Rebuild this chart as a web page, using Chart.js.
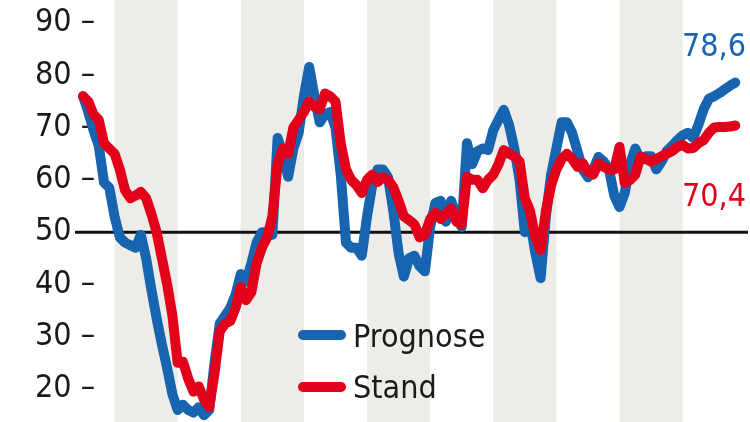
<!DOCTYPE html>
<html><head><meta charset="utf-8">
<script src="https://cdn.jsdelivr.net/npm/chart.js@4/dist/chart.umd.min.js"></script>
<style>html,body{margin:0;padding:0;background:#fff;overflow:hidden}</style>
</head><body>
<canvas id="c" width="750" height="422"></canvas>
<script>
// ---- data ----
const startYear = 2007, startMonth = 7;   // first monthly observation
const prognose = [
  76,73,69.5,66.5,59.5,58.5,53,49,48,47.5,47,49.5,
  45,39,33.5,28.5,24,19,16,17,16,15.5,16.5,15,
  16,25,32.5,34,35.5,38,42,40.5,44,48,50,50,
  49.5,68,65,60.6,66,69,76,81.6,76,71,72.5,73,
  70,61,48,47,47,45.5,53,59,62,62,60.5,54,
  46,41.5,45,45.5,43.5,42.5,51,55.6,56,52,56,53,
  51,67,63,65.5,66,65.7,69.5,71.5,73.4,70.5,66,60,
  50,52,46,41.2,53,61,66,71,71,69,65.5,62,
  60.5,62,64.4,63.5,62,57,54.8,57.5,63,66,63.8,64.5,
  64.5,62,63.5,65.5,66.5,67.6,68.5,69,68,70.5,73.5,75.5,
  76,76.6,77.3,78,78.6
];
const stand = [
  76,75,72.5,71.5,67,66,65,62,58,56.5,57,57.7,
  56.5,53.5,50,45,40,34,25,25.2,22,19.5,20.5,18,
  16.5,23,31,32.5,33,35.5,39.5,37,38.5,44,47,49,
  53,63,66,65,70,71.5,73,75,74,73.5,76.5,76,
  75,67,62,60,59,57.5,60,61,59.6,60.5,60,58.6,
  56,53,52.3,51.5,49,49.5,52.5,53.7,52.5,53.5,54.5,52,
  51.5,60.6,60,60,58.4,60,61,63,65.7,65,64.5,63.5,
  56.5,54,49,46.6,54,59,62,64,65,64,62.5,63.2,
  61.5,61,63.2,62.5,62,62,66.3,59.4,60,61,64.4,64,
  63.5,64,64.5,65,65.5,66.3,66.7,66,66.1,67,67.6,69,
  70,70.1,70.1,70.2,70.4
];
const seriesNames = ['Prognose', 'Stand'];
const endLabels = ['78,6', '70,4'];
const yTickValues = [20, 30, 40, 50, 60, 70, 80, 90];
const refLine = 50;
const shadedYears = [2008, 2010, 2012, 2014, 2016];

const months = prognose.map((_, i) => {
  const m = startMonth - 1 + i;
  return (startYear + Math.floor(m / 12)) + '-' + String(m % 12 + 1).padStart(2, '0');
});

// ---- styles ----
const BLUE = '#1764b0', RED = '#e2001a', BAND = '#edece8', INK = '#1a1a1a';
const FONT = "'Liberation Sans Narrow', 'DejaVu Sans Condensed', 'Liberation Sans', sans-serif";
const FS = 32;

const decor = {
  id: 'decor',
  beforeDatasetsDraw(chart) {
    const {ctx, chartArea: a, scales: {x, y}} = chart;
    ctx.save();
    ctx.fillStyle = BAND;
    shadedYears.forEach(yr => {
      const i0 = (yr - startYear) * 12 + (1 - startMonth);
      const x0 = x.getPixelForValue(i0), x1 = x.getPixelForValue(i0 + 12);
      ctx.fillRect(x0, a.top, x1 - x0, a.bottom - a.top);
    });
    const y50 = y.getPixelForValue(refLine);
    ctx.strokeStyle = '#111';
    ctx.lineWidth = 3;
    ctx.beginPath(); ctx.moveTo(a.left, y50); ctx.lineTo(a.right - 2, y50); ctx.stroke();
    ctx.restore();
  },
  afterDatasetsDraw(chart) {
    const {ctx, scales: {y}} = chart;
    const ds = chart.data.datasets;
    ctx.save();
    ctx.font = FS + 'px ' + FONT;
    ctx.textBaseline = 'alphabetic';
    // legend
    const legendRows = [{ds: ds[1], ly: 335, ty: 347}, {ds: ds[0], ly: 387, ty: 398}];
    legendRows.forEach(r => {
      ctx.strokeStyle = r.ds.borderColor;
      ctx.lineWidth = 10; ctx.lineCap = 'round';
      ctx.beginPath(); ctx.moveTo(303, r.ly); ctx.lineTo(341, r.ly); ctx.stroke();
      ctx.fillStyle = INK; ctx.textAlign = 'left';
      ctx.fillText(r.ds.label, 353, r.ty);
    });
    // end labels
    ctx.textAlign = 'right';
    const lb = ds[1].data[ds[1].data.length - 1].y;
    const lr = ds[0].data[ds[0].data.length - 1].y;
    ctx.fillStyle = BLUE; ctx.fillText(endLabels[0], 746, y.getPixelForValue(lb) - 27);
    ctx.fillStyle = RED;  ctx.fillText(endLabels[1], 746, y.getPixelForValue(lr) + 81);
    ctx.restore();
  }
};

new Chart(document.getElementById('c'), {
  type: 'line',
  data: {
    labels: months,
    datasets: [
      {label: seriesNames[1], data: stand.map((v, i) => ({x: i, y: v})), borderColor: RED, order: 1},
      {label: seriesNames[0], data: prognose.map((v, i) => ({x: i, y: v})), borderColor: BLUE, order: 2}
    ]
  },
  options: {
    responsive: false, animation: false,
    layout: {padding: 0, autoPadding: false},
    plugins: {legend: {display: false}, tooltip: {enabled: false}},
    elements: {
      point: {radius: 0, hoverRadius: 0},
      line: {tension: 0, borderWidth: 10, borderJoinStyle: 'round', borderCapStyle: 'round', fill: false}
    },
    scales: {
      x: {type: 'linear', display: false, min: -1.521, max: 126.81},
      y: {
        position: 'left', min: 13.69, max: 94.4,
        afterBuildTicks(ax) { ax.ticks = yTickValues.map(v => ({value: v})); },
        afterFit(ax) { ax.width = 75; ax.paddingTop = 0; ax.paddingBottom = 0; },
        grid: {display: false, drawTicks: false},
        border: {display: false},
        ticks: {
          mirror: true, crossAlign: 'near', padding: -40, color: INK,
          font: {family: FONT, size: FS},
          callback: v => v === refLine ? String(v) : v + ' –'
        }
      }
    }
  },
  plugins: [decor]
});
</script>
</body></html>
